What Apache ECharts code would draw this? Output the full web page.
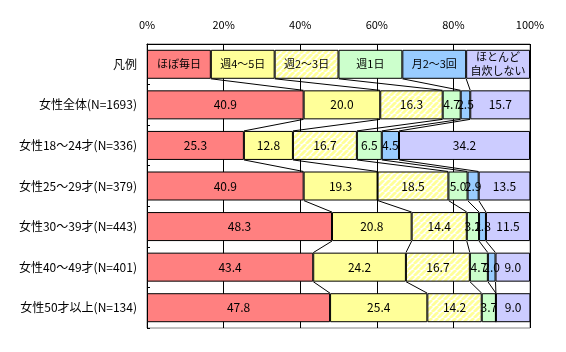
<!DOCTYPE html>
<html>
<head>
<meta charset="utf-8">
<script src="https://cdn.jsdelivr.net/npm/echarts@6/dist/echarts.min.js"></script>
<style>
  html, body { margin: 0; padding: 0; background: #fff; }
  #chart { width: 566px; height: 352px; }
</style>
</head>
<body>
<div id="chart"></div>
<script>
// カテゴリ（先頭は凡例行）
var categories = ['凡例', '女性全体(N=1693)', '女性18～24才(N=336)', '女性25～29才(N=379)',
  '女性30～39才(N=443)', '女性40～49才(N=401)', '女性50才以上(N=134)'];
var seriesNames = ['ほぼ毎日', '週4～5日', '週2～3日', '週1日', '月2～3回', 'ほとんど\n自炊しない'];
var legendShare = 100 / 6;

// 各回答の割合（%）
var dailyValues   = [40.9, 25.3, 40.9, 48.3, 43.4, 47.8];
var w45Values     = [20.0, 12.8, 19.3, 20.8, 24.2, 25.4];
var w23Values     = [16.3, 16.7, 18.5, 14.4, 16.7, 14.2];
var w1Values      = [4.7, 6.5, 5.0, 3.2, 4.7, 3.7];
var m23Values     = [2.5, 4.5, 2.9, 1.8, 2.0, 0.0];
var rarelyValues  = [15.7, 34.2, 13.5, 11.5, 9.0, 9.0];
var xTicks = [0, 20, 40, 60, 80, 100];

var allValues = [dailyValues, w45Values, w23Values, w1Values, m23Values, rarelyValues];

// 斜線パターン
function makeHatch() {
    var c = document.createElement('canvas');
    c.width = 6; c.height = 6;
    var ctx = c.getContext('2d');
    ctx.fillStyle = '#ffffff';
    ctx.fillRect(0, 0, 6, 6);
    ctx.strokeStyle = '#ffff99';
    ctx.lineWidth = 2.8;
    [-6, 0, 6].forEach(function(d) {
        ctx.beginPath();
        ctx.moveTo(d, 6);
        ctx.lineTo(d + 6, 0);
        ctx.stroke();
    });
    return c;
}

var colors = ['#ff8080', '#ffff99', { image: makeHatch(), repeat: 'repeat' }, '#ccffcc', '#99ccff', '#ccccff'];

var barSeries = seriesNames.map(function(name, s) {
    return {
        name: name,
        type: 'bar',
        stack: 'total',
        barWidth: 29,
        itemStyle: { color: colors[s], borderColor: '#000', borderWidth: 1 },
        label: {
            show: true,
            position: 'inside',
            color: '#000',
            fontFamily: 'Noto Sans CJK JP',
            fontSize: 12,
            lineHeight: 14,
            formatter: function(p) {
                if (p.dataIndex === 0) return '{s|' + name.replace('\n', '}\n{s|') + '}';
                if (p.value === 0) return '';
                return p.value.toFixed(1);
            },
            rich: { s: { fontSize: 11, lineHeight: 14, color: '#000', fontFamily: 'Noto Sans CJK JP' } }
        },
        emphasis: { disabled: true },
        data: [legendShare].concat(allValues[s])
    };
});

// 区分線（行の境界をつなぐ線）
var rowsCum = [];
for (var r = 0; r < categories.length; r++) {
    var acc = 0, cum = [];
    for (var s = 0; s < seriesNames.length; s++) {
        acc += r === 0 ? legendShare : allValues[s][r - 1];
        cum.push(acc);
    }
    rowsCum.push(cum);
}
var lineData = [];
for (var r2 = 0; r2 < categories.length - 1; r2++) {
    for (var k = 0; k < seriesNames.length - 1; k++) {
        lineData.push([rowsCum[r2][k], r2, rowsCum[r2 + 1][k], r2 + 1]);
    }
}

var chart = echarts.init(document.getElementById('chart'));
chart.setOption({
    animation: false,
    textStyle: { fontFamily: 'Noto Sans CJK JP' },
    grid: {
        left: 147, right: 36, top: 44, bottom: 24,
        show: true, borderColor: '#808080', borderWidth: 1, backgroundColor: '#fff'
    },
    xAxis: {
        type: 'value',
        position: 'top',
        min: 0, max: 100, interval: 20,
        axisLine: { show: true, lineStyle: { color: '#000', width: 1 } },
        axisTick: { show: false },
        splitLine: { show: true, lineStyle: { color: '#000', width: 1 } },
        axisLabel: { formatter: '{value}%', color: '#000', fontSize: 11, margin: 14, fontFamily: 'Noto Sans CJK JP' }
    },
    yAxis: {
        type: 'category',
        inverse: true,
        data: categories,
        axisLine: { show: true, lineStyle: { color: '#000', width: 1 } },
        axisTick: { show: true, inside: true, length: 3, lineStyle: { color: '#000' } },
        axisLabel: { color: '#000', fontSize: 12, margin: 10, fontFamily: 'Noto Sans CJK JP' }
    },
    series: barSeries.concat([{
        type: 'custom',
        silent: true,
        z: 5,
        data: lineData,
        encode: { x: [0, 2], y: [1, 3] },
        renderItem: function(params, api) {
            var half = 29 / 2;
            var p1 = api.coord([api.value(0), api.value(1)]);
            var p2 = api.coord([api.value(2), api.value(3)]);
            return {
                type: 'line',
                shape: { x1: p1[0], y1: p1[1] + half, x2: p2[0], y2: p2[1] - half },
                style: { stroke: '#000', lineWidth: 1 }
            };
        }
    }])
});
</script>
</body>
</html>
